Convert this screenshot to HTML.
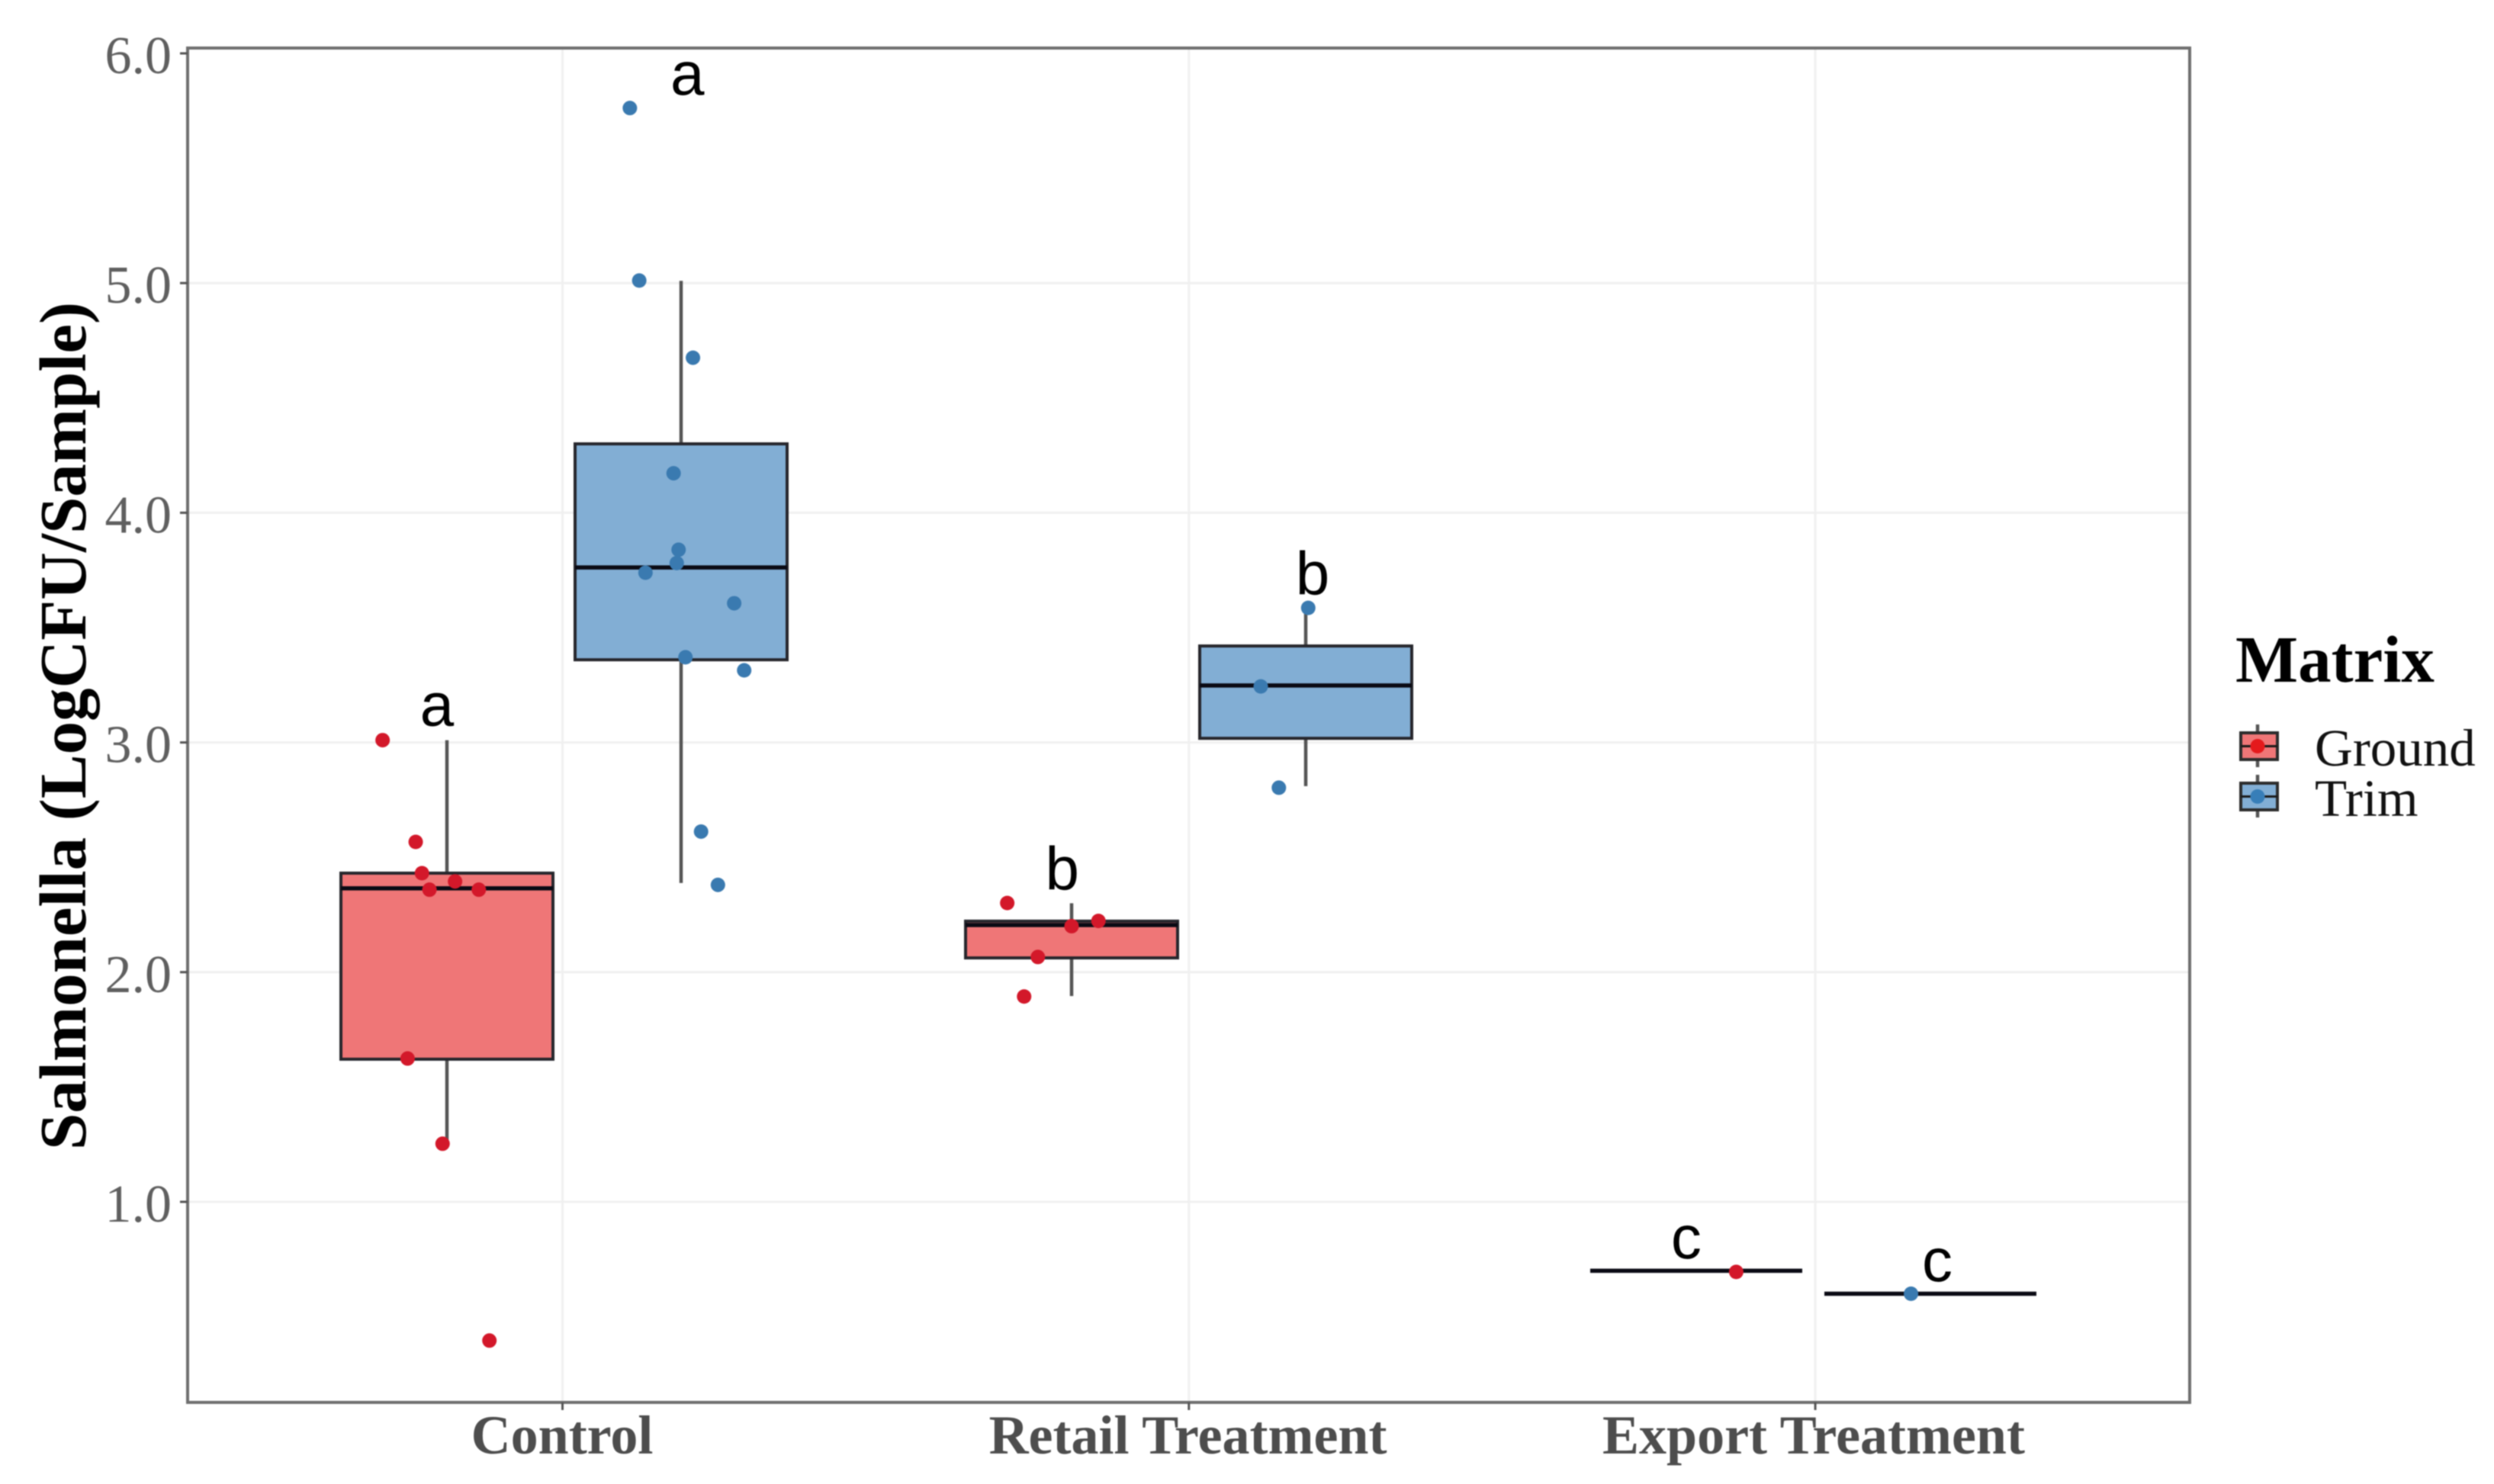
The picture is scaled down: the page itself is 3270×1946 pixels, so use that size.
<!DOCTYPE html>
<html lang="en">
<head>
<meta charset="utf-8">
<title>Salmonella by treatment and matrix</title>
<style>
html,body{margin:0;padding:0;background:#fff;}
svg{display:block;filter:blur(0.8px);}
text{font-family:"Liberation Serif",serif;}
.letter{font-family:"Liberation Sans",sans-serif;font-size:80px;fill:#000;text-anchor:middle;}
</style>
</head>
<body>
<svg id="chart" xmlns="http://www.w3.org/2000/svg" width="3270" height="1946" viewBox="0 0 3270 1946">
  <rect x="0" y="0" width="3270" height="1946" fill="#ffffff"/>
  <g id="grid"></g>
  <g id="marks"></g>
  <rect x="246" y="63" width="2625" height="1776" fill="none" stroke="#6f6f6f" stroke-width="4"/>
  <g id="axes"></g>
  <text transform="translate(112 1508) rotate(-90)" font-size="87" font-weight="bold" fill="#000" textLength="1112" lengthAdjust="spacingAndGlyphs">Salmonella (LogCFU/Sample)</text>
  <g id="legend">
    <text x="2931" y="894" font-size="87" font-weight="bold" fill="#000">Matrix</text>
  </g>
</svg>
<script>
const categories = ['Control', 'Retail Treatment', 'Export Treatment'];
const yTicks = [1, 2, 3, 4, 5, 6];
const yTickLabels = ['1.0', '2.0', '3.0', '4.0', '5.0', '6.0'];
const seriesNames = ['Ground', 'Trim'];

const groundQ1 = [1.621, 2.062, 0.70];
const groundMedian = [2.365, 2.205, 0.70];
const groundQ3 = [2.431, 2.222, 0.70];
const groundWhiskerLow = [1.25, 1.896, 0.70];
const groundWhiskerHigh = [3.01, 2.30, 0.70];

const trimQ1 = [3.36, 3.018, 0.60];
const trimMedian = [3.762, 3.248, 0.60];
const trimQ3 = [4.30, 3.42, 0.60];
const trimWhiskerLow = [2.388, 2.81, 0.60];
const trimWhiskerHigh = [5.01, 3.586, 0.60];

const groundPointValues = [
  [3.01, 2.567, 2.431, 2.395, 2.359, 2.359, 1.624, 1.253, 0.396],
  [2.301, 2.223, 2.20, 2.066, 1.894],
  [0.695]
];
const groundPointJitter = [
  [-0.103, -0.050, -0.040, 0.013, -0.028, 0.051, -0.063, -0.007, 0.068],
  [-0.103, 0.043, 0, -0.054, -0.076],
  [0.064]
];
const trimPointValues = [
  [5.762, 5.011, 4.675, 4.172, 3.839, 3.781, 3.739, 3.606, 3.371, 3.314, 2.612, 2.38],
  [3.586, 3.244, 2.803],
  [0.60]
];
const trimPointJitter = [
  [-0.082, -0.067, 0.019, -0.012, -0.004, -0.007, -0.057, 0.085, 0.007, 0.101, 0.032, 0.059],
  [0.004, -0.072, -0.043],
  [-0.031]
];

const groundLetters = ['a', 'b', 'c'];
const groundLetterValues = [3.073, 2.36, 0.754];
const groundLetterOffsets = [-0.016, -0.015, -0.016];
const trimLetters = ['a', 'b', 'c'];
const trimLetterValues = [5.821, 3.644, 0.655];
const trimLetterOffsets = [0.010, 0.011, 0.011];

const SVGNS = 'http://www.w3.org/2000/svg';
const catStep = 819, catStart = 739.5, dodge = 153.5, boxWidth = 278;
function yScale(v) { return 1576 - (v - 1) * 301.2; }
function xScale(i) { return catStart + i * catStep; }
function gridX(i) { return 737.5 + i * 821.3; }
function labelX(i) { return 737 + i * 820.5; }
function make(tag, attrs, parent) {
  const el = document.createElementNS(SVGNS, tag);
  for (const k in attrs) el.setAttribute(k, attrs[k]);
  parent.appendChild(el);
  return el;
}

const gridG = document.getElementById('grid');
const marksG = document.getElementById('marks');
const axesG = document.getElementById('axes');
const legendG = document.getElementById('legend');

yTicks.forEach(function (t, i) {
  const y = yScale(t);
  if (t < 6) {
    const line = make('line', {x1: 248, x2: 2869, y1: y, y2: y, stroke: '#f0f0f0', 'stroke-width': 3}, gridG);
    
    
  }
  const tick = make('line', {x1: 236, x2: 246, y1: y, y2: y, stroke: '#555', 'stroke-width': 3}, axesG);
  
  
  const label = make('text', {x: 225, y: y + 26, 'font-size': 70, fill: '#5f5f5f', 'text-anchor': 'end'}, axesG);
  
  
  label.textContent = yTickLabels[i];
});

categories.forEach(function (c, i) {
  const gx = gridX(i);
  const line = make('line', {x1: gx, x2: gx, y1: 65, y2: 1837, stroke: '#f0f0f0', 'stroke-width': 3}, gridG);
  
  
  const tick = make('line', {x1: gx, x2: gx, y1: 1839, y2: 1849, stroke: '#555', 'stroke-width': 3}, axesG);
  
  
  const label = make('text', {x: labelX(i), y: 1906, 'font-size': 72, 'font-weight': 'bold', fill: '#4d4d4d', 'text-anchor': 'middle'}, axesG);
  
  
  label.textContent = c;
});

function drawSeries(prefix, offset, fill, pointColor, q1, med, q3, lo, hi, pv, pj, letters, lv, lo2) {
  categories.forEach(function (c, i) {
    const cx = xScale(i) + offset;
    const wh = make('line', {x1: cx, x2: cx, y1: yScale(hi[i]), y2: yScale(q3[i]), stroke: '#555', 'stroke-width': 4.5}, marksG);
    
    
    const wl = make('line', {x1: cx, x2: cx, y1: yScale(q1[i]), y2: yScale(lo[i]), stroke: '#555', 'stroke-width': 4.5}, marksG);
    
    
    const box = make('rect', {x: cx - boxWidth / 2, y: yScale(q3[i]), width: boxWidth, height: yScale(q1[i]) - yScale(q3[i]), fill: fill, stroke: '#26262c', 'stroke-width': 4}, marksG);
    
    
    const m = make('line', {x1: cx - boxWidth / 2, x2: cx + boxWidth / 2, y1: yScale(med[i]), y2: yScale(med[i]), stroke: '#0a0a14', 'stroke-width': 5.5}, marksG);
    
    
    pv[i].forEach(function (v, j) {
      const p = make('circle', {cx: cx + pj[i][j] * catStep, cy: yScale(v), r: 9.5, fill: pointColor}, marksG);
      
      
    });
    const t = make('text', {x: cx + lo2[i] * catStep, y: yScale(lv[i]), class: 'letter'}, marksG);
    
    
    t.textContent = letters[i];
  });
}

drawSeries('ground', -dodge, '#ef7677', '#d3182a', groundQ1, groundMedian, groundQ3, groundWhiskerLow, groundWhiskerHigh, groundPointValues, groundPointJitter, groundLetters, groundLetterValues, groundLetterOffsets);
drawSeries('trim', dodge, '#82aed4', '#3a7ab0', trimQ1, trimMedian, trimQ3, trimWhiskerLow, trimWhiskerHigh, trimPointValues, trimPointJitter, trimLetters, trimLetterValues, trimLetterOffsets);

function drawKey(name, top, fill, pointColor, baseline) {
  const w = make('line', {x1: 2960, x2: 2960, y1: top - 11, y2: top + 45, stroke: '#555', 'stroke-width': 4.5}, legendG);
  
  
  const b = make('rect', {x: 2938, y: top, width: 48, height: 35, fill: fill, stroke: '#2c2c2c', 'stroke-width': 4}, legendG);
  
  
  const m = make('line', {x1: 2938, x2: 2986, y1: top + 17.5, y2: top + 17.5, stroke: '#1a1a1a', 'stroke-width': 3}, legendG);
  
  
  const p = make('circle', {cx: 2960, cy: top + 17.5, r: 9.5, fill: pointColor}, legendG);
  
  
  const t = make('text', {x: 3035, y: baseline, 'font-size': 69, fill: '#111'}, legendG);
  
  
  t.textContent = name;
}
drawKey(seriesNames[0], 961, '#ef7677', '#e41a1c', 1004);
drawKey(seriesNames[1], 1027, '#82aed4', '#377eb8', 1070);
</script>
</body>
</html>
